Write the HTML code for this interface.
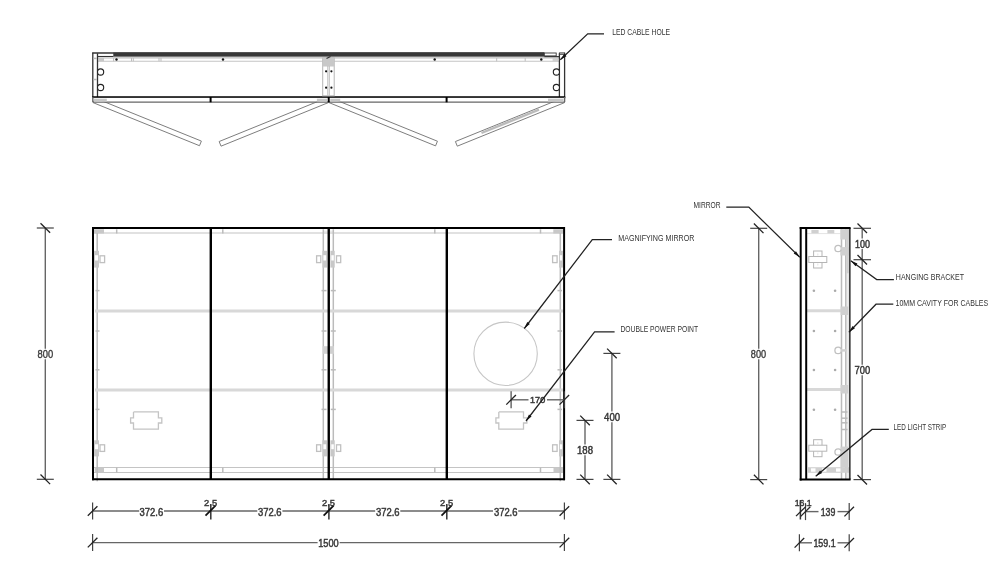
<!DOCTYPE html>
<html><head><meta charset="utf-8"><style>
html,body{margin:0;padding:0;background:#fff;}
svg{display:block;filter:grayscale(1);}
.k1{stroke:#111;stroke-width:1.1;fill:none}
.k12g{stroke:#333;stroke-width:1.3;fill:none}
.k1g{stroke:#333;stroke-width:1.1;fill:none}
.fd{fill:#383838;stroke:none}
.k1n{stroke:#222;stroke-width:1.1;fill:#fff}
.k15{stroke:#111;stroke-width:1.6;fill:none}
.k15g{stroke:#3e3e3e;stroke-width:1.7;fill:none}
.k2{stroke:#000;stroke-width:2;fill:none}
.k2n{stroke:#000;stroke-width:2;fill:none}
.k25{stroke:#000;stroke-width:2.4;fill:none}
.g07{stroke:#dcdcdc;stroke-width:0.8;fill:none}
.g1{stroke:#bdbdbd;stroke-width:1;fill:none}
.g12{stroke:#c4c4c4;stroke-width:1.1;fill:none}
.g15{stroke:#bbb;stroke-width:1.5;fill:none}
.g22{stroke:#bbb;stroke-width:2.4;fill:none}
.wk{fill:#fff;stroke:#333;stroke-width:0.9}
.g1n{stroke:#b5b5b5;stroke-width:1;fill:none}
.g1nw{stroke:#b5b5b5;stroke-width:1;fill:#fff}
.g13nw{stroke:#c0c0c0;stroke-width:1.3;fill:#fff}
.g2d{stroke:#c8c8c8;stroke-width:2.2;stroke-dasharray:6 4;fill:none}
.fg{fill:#c8c8c8;stroke:none}
.fgl{fill:#d0d0d0;stroke:none}
.fvl{fill:#ececec;stroke:none}
.fgd{fill:#aaa;stroke:none}
.fw{fill:#fff;stroke:none}
.fk{fill:#111;stroke:none}
.sh{stroke:#d8d8d8;stroke-width:3;fill:none}
.ppc{stroke:#c4c4c4;stroke-width:1.3;fill:none}
.mm{stroke:#c6c6c6;stroke-width:1.1;fill:none}
.dg{stroke:#7e7e7e;stroke-width:1.0;fill:#fff}
.d1{stroke:#666;stroke-width:1.4;fill:none}
.de{stroke:#444;stroke-width:1.2;fill:none}
.ds{stroke:#222;stroke-width:1.3;fill:none}
.ds2{stroke:#111;stroke-width:1.8;fill:none}
.ds16{stroke:#333;stroke-width:1.5;fill:none}
.ld{stroke:#222;stroke-width:1.25;fill:none}
text{font-family:"Liberation Sans",sans-serif;}
.dt{font-size:10px;fill:#333;stroke:#3a3a3a;stroke-width:0.45}
.dtr{font-size:10px;fill:#333;stroke:#444;stroke-width:0.35}
.dt92{font-size:9.3px;fill:#333;stroke:#3a3a3a;stroke-width:0.45}
.dt9{font-size:9.6px;fill:#333;stroke:#3a3a3a;stroke-width:0.45}
.lt{font-size:8.8px;fill:#333}
</style></head>
<body><svg width="991" height="576" viewBox="0 0 991 576">
<rect x="0" y="0" width="991" height="576" fill="#fff"/>
<polyline points="93.06,102.62 199.51,145.72 201.39,141.08 94.94,97.98 93.06,102.62" class="dg"/>
<polyline points="326.46,97.98 219.16,141.53 221.04,146.17 328.34,102.62 326.46,97.98" class="dg"/>
<polyline points="329.06,102.62 435.56,145.87 437.44,141.23 330.94,97.98 329.06,102.62" class="dg"/>
<polyline points="562.66,97.98 455.41,141.53 457.29,146.17 564.54,102.62 562.66,97.98" class="dg"/>
<line x1="539.00" y1="109.60" x2="481.50" y2="133.00" class="g22"/>
<rect x="93.50" y="53.50" width="470.50" height="43.00" class="fw"/>
<line x1="92.20" y1="53.00" x2="544.30" y2="53.00" class="k12g"/>
<rect x="113.30" y="52.60" width="431.00" height="4.40" class="fd"/>
<line x1="113.30" y1="57.00" x2="559.40" y2="57.00" class="g1"/>
<line x1="97.50" y1="56.50" x2="113.30" y2="56.50" class="k1g"/>
<line x1="97.50" y1="58.00" x2="559.40" y2="58.00" class="g1"/>
<line x1="97.50" y1="61.30" x2="559.40" y2="61.30" class="g12"/>
<rect x="98.40" y="58.00" width="5.60" height="3.30" class="fg"/>
<rect x="552.60" y="58.00" width="5.70" height="3.60" class="fgl"/>
<circle cx="116.50" cy="59.50" r="1.20" class="fk"/>
<circle cx="223.00" cy="59.50" r="1.20" class="fk"/>
<circle cx="329.20" cy="59.50" r="1.20" class="fk"/>
<circle cx="434.70" cy="59.50" r="1.20" class="fk"/>
<circle cx="541.30" cy="59.50" r="1.20" class="fk"/>
<line x1="113.60" y1="58.00" x2="113.60" y2="61.30" class="g1"/>
<line x1="131.50" y1="58.00" x2="131.50" y2="61.30" class="g1"/>
<line x1="133.30" y1="58.00" x2="133.30" y2="61.30" class="g1"/>
<line x1="159.00" y1="58.00" x2="159.00" y2="61.30" class="g1"/>
<line x1="161.00" y1="58.00" x2="161.00" y2="61.30" class="g1"/>
<line x1="496.70" y1="58.00" x2="496.70" y2="61.30" class="g1"/>
<line x1="525.20" y1="58.00" x2="525.20" y2="61.30" class="g1"/>
<line x1="92.80" y1="52.80" x2="92.80" y2="97.80" class="k12g"/>
<line x1="97.50" y1="53.30" x2="97.50" y2="97.00" class="k12g"/>
<line x1="93.50" y1="58.40" x2="96.80" y2="58.40" class="g15"/>
<line x1="93.50" y1="79.50" x2="96.80" y2="79.50" class="g15"/>
<line x1="559.40" y1="53.30" x2="559.40" y2="97.00" class="k12g"/>
<line x1="564.60" y1="52.80" x2="564.60" y2="98.00" class="k12g"/>
<rect x="544.30" y="53.00" width="11.90" height="2.90" class="wk"/>
<line x1="544.30" y1="56.60" x2="559.40" y2="56.60" class="k1g"/>
<rect x="559.40" y="52.90" width="5.20" height="1.40" class="wk"/>
<line x1="92.20" y1="97.30" x2="565.20" y2="97.30" class="k2"/>
<rect x="93.30" y="97.80" width="471.00" height="3.80" class="fw"/>
<line x1="92.80" y1="102.10" x2="564.60" y2="102.10" class="d1"/>
<line x1="92.80" y1="97.00" x2="92.80" y2="102.10" class="d1"/>
<line x1="564.60" y1="97.00" x2="564.60" y2="102.10" class="d1"/>
<line x1="210.60" y1="97.00" x2="210.60" y2="102.30" class="k2"/>
<line x1="328.70" y1="97.00" x2="328.70" y2="102.30" class="k2"/>
<line x1="446.60" y1="97.00" x2="446.60" y2="102.30" class="k2"/>
<rect x="94.00" y="98.70" width="12.80" height="3.00" class="fg"/>
<rect x="548.00" y="98.70" width="15.50" height="3.00" class="fg"/>
<rect x="316.90" y="98.70" width="10.20" height="2.80" class="fg"/>
<rect x="330.30" y="98.70" width="9.90" height="2.80" class="fg"/>
<circle cx="100.60" cy="72.00" r="3.10" class="k1n"/>
<circle cx="100.60" cy="87.50" r="3.10" class="k1n"/>
<circle cx="556.40" cy="72.00" r="3.10" class="k1n"/>
<circle cx="556.40" cy="87.50" r="3.10" class="k1n"/>
<rect x="322.70" y="58.00" width="11.50" height="37.80" class="g1nw"/>
<rect x="322.70" y="58.00" width="11.50" height="8.50" class="fg"/>
<line x1="327.80" y1="66.00" x2="327.80" y2="95.80" class="g1"/>
<line x1="329.30" y1="66.00" x2="329.30" y2="95.80" class="g1"/>
<circle cx="326.10" cy="71.30" r="1.10" class="fk"/>
<circle cx="326.10" cy="87.70" r="1.10" class="fk"/>
<circle cx="331.40" cy="71.30" r="1.10" class="fk"/>
<circle cx="331.40" cy="87.70" r="1.10" class="fk"/>
<line x1="326.50" y1="58.50" x2="330.50" y2="56.50" class="k1g"/>
<line x1="94.00" y1="233.00" x2="563.00" y2="233.00" class="g12"/>
<line x1="323.00" y1="231.20" x2="334.00" y2="231.20" class="g07"/>
<line x1="94.00" y1="467.50" x2="563.00" y2="467.50" class="g12"/>
<line x1="94.00" y1="472.50" x2="563.00" y2="472.50" class="g12"/>
<line x1="116.70" y1="229.30" x2="116.70" y2="233.50" class="g15"/>
<line x1="116.70" y1="467.50" x2="116.70" y2="472.50" class="g15"/>
<line x1="222.80" y1="229.30" x2="222.80" y2="233.50" class="g15"/>
<line x1="222.80" y1="467.50" x2="222.80" y2="472.50" class="g15"/>
<line x1="434.80" y1="229.30" x2="434.80" y2="233.50" class="g15"/>
<line x1="434.80" y1="467.50" x2="434.80" y2="472.50" class="g15"/>
<line x1="540.50" y1="229.30" x2="540.50" y2="233.50" class="g15"/>
<line x1="540.50" y1="467.50" x2="540.50" y2="472.50" class="g15"/>
<rect x="94.00" y="229.30" width="10.00" height="4.20" class="fg"/>
<rect x="553.30" y="229.30" width="9.90" height="4.20" class="fg"/>
<rect x="94.70" y="467.50" width="9.30" height="5.00" class="fg"/>
<rect x="553.50" y="467.50" width="9.50" height="5.00" class="fg"/>
<line x1="97.20" y1="233.00" x2="97.20" y2="481.20" class="g15"/>
<line x1="560.30" y1="233.00" x2="560.30" y2="481.20" class="g15"/>
<line x1="323.30" y1="229.30" x2="323.30" y2="479.00" class="g15"/>
<line x1="333.30" y1="229.30" x2="333.30" y2="479.00" class="g15"/>
<line x1="95.00" y1="310.90" x2="563.00" y2="310.90" class="sh"/>
<line x1="95.00" y1="389.90" x2="563.00" y2="389.90" class="sh"/>
<line x1="95.50" y1="290.60" x2="99.50" y2="290.60" class="g15"/>
<line x1="557.50" y1="290.60" x2="562.00" y2="290.60" class="g15"/>
<line x1="321.50" y1="290.60" x2="326.50" y2="290.60" class="g15"/>
<line x1="330.80" y1="290.60" x2="335.80" y2="290.60" class="g15"/>
<line x1="95.50" y1="331.00" x2="99.50" y2="331.00" class="g15"/>
<line x1="557.50" y1="331.00" x2="562.00" y2="331.00" class="g15"/>
<line x1="321.50" y1="331.00" x2="326.50" y2="331.00" class="g15"/>
<line x1="330.80" y1="331.00" x2="335.80" y2="331.00" class="g15"/>
<line x1="95.50" y1="369.80" x2="99.50" y2="369.80" class="g15"/>
<line x1="557.50" y1="369.80" x2="562.00" y2="369.80" class="g15"/>
<line x1="321.50" y1="369.80" x2="326.50" y2="369.80" class="g15"/>
<line x1="330.80" y1="369.80" x2="335.80" y2="369.80" class="g15"/>
<line x1="95.50" y1="409.40" x2="99.50" y2="409.40" class="g15"/>
<line x1="557.50" y1="409.40" x2="562.00" y2="409.40" class="g15"/>
<line x1="321.50" y1="409.40" x2="326.50" y2="409.40" class="g15"/>
<line x1="330.80" y1="409.40" x2="335.80" y2="409.40" class="g15"/>
<rect x="94.10" y="250.80" width="4.90" height="16.80" class="fg"/>
<rect x="95.00" y="255.20" width="3.10" height="5.30" class="fw"/>
<rect x="100.00" y="255.80" width="4.60" height="6.80" class="g13nw"/>
<rect x="559.00" y="250.80" width="4.00" height="16.80" class="fg"/>
<rect x="559.90" y="255.20" width="2.20" height="5.30" class="fw"/>
<rect x="552.60" y="255.80" width="4.50" height="6.80" class="g13nw"/>
<rect x="322.50" y="250.80" width="4.50" height="16.80" class="fg"/>
<rect x="323.40" y="255.20" width="2.70" height="5.30" class="fw"/>
<rect x="316.60" y="255.80" width="4.20" height="6.80" class="g13nw"/>
<rect x="330.40" y="250.80" width="4.30" height="16.80" class="fg"/>
<rect x="331.30" y="255.20" width="2.50" height="5.30" class="fw"/>
<rect x="336.50" y="255.80" width="4.20" height="6.80" class="g13nw"/>
<rect x="94.10" y="440.30" width="4.90" height="16.10" class="fg"/>
<rect x="95.00" y="444.30" width="3.10" height="4.90" class="fw"/>
<rect x="100.00" y="444.80" width="4.60" height="6.60" class="g13nw"/>
<rect x="559.00" y="440.30" width="4.00" height="16.10" class="fg"/>
<rect x="559.90" y="444.30" width="2.20" height="4.90" class="fw"/>
<rect x="552.60" y="444.80" width="4.50" height="6.60" class="g13nw"/>
<rect x="322.50" y="440.30" width="4.50" height="16.10" class="fg"/>
<rect x="323.40" y="444.30" width="2.70" height="4.90" class="fw"/>
<rect x="316.60" y="444.80" width="4.20" height="6.60" class="g13nw"/>
<rect x="330.40" y="440.30" width="4.30" height="16.10" class="fg"/>
<rect x="331.30" y="444.30" width="2.50" height="4.90" class="fw"/>
<rect x="336.50" y="444.80" width="4.20" height="6.60" class="g13nw"/>
<rect x="322.70" y="346.20" width="11.30" height="7.60" class="fgl"/>
<polyline points="133.50,411.90 158.40,411.90 158.40,417.90 161.80,417.90 161.80,423.00 158.40,423.00 158.40,429.20 133.50,429.20 133.50,423.00 130.60,423.00 130.60,417.90 133.50,417.90 133.50,411.90" class="ppc"/>
<polyline points="498.80,411.90 523.50,411.90 523.50,417.90 526.90,417.90 526.90,423.00 523.50,423.00 523.50,429.20 498.80,429.20 498.80,423.00 495.90,423.00 495.90,417.90 498.80,417.90 498.80,411.90" class="ppc"/>
<circle cx="505.60" cy="353.80" r="31.70" class="mm"/>
<line x1="92.00" y1="228.00" x2="565.00" y2="228.00" class="k2"/>
<line x1="92.00" y1="479.20" x2="565.00" y2="479.20" class="k2"/>
<line x1="93.00" y1="227.00" x2="93.00" y2="480.20" class="k2"/>
<line x1="564.10" y1="227.00" x2="564.10" y2="480.20" class="k2"/>
<line x1="210.80" y1="228.00" x2="210.80" y2="479.20" class="k25"/>
<line x1="328.75" y1="228.00" x2="328.75" y2="479.20" class="k25"/>
<line x1="446.80" y1="228.00" x2="446.80" y2="479.20" class="k25"/>
<rect x="811.40" y="230.00" width="7.20" height="3.60" class="fgl"/>
<rect x="827.40" y="230.00" width="6.90" height="3.60" class="fgl"/>
<line x1="807.00" y1="233.60" x2="840.40" y2="233.60" class="g07"/>
<rect x="846.60" y="229.00" width="2.20" height="250.00" class="fvl"/>
<line x1="841.50" y1="229.00" x2="841.50" y2="479.00" class="g15"/>
<line x1="845.80" y1="229.00" x2="845.80" y2="479.00" class="g15"/>
<rect x="840.40" y="229.20" width="8.20" height="10.30" class="fgl"/>
<rect x="840.40" y="247.30" width="8.20" height="8.20" class="fgl"/>
<rect x="846.50" y="229.20" width="2.10" height="44.10" class="fgl"/>
<line x1="807.00" y1="310.80" x2="841.50" y2="310.80" class="sh"/>
<line x1="807.00" y1="389.60" x2="841.50" y2="389.60" class="sh"/>
<rect x="840.60" y="306.50" width="7.60" height="8.50" class="fgl"/>
<rect x="840.60" y="385.00" width="7.60" height="8.50" class="fgl"/>
<rect x="840.60" y="446.60" width="7.60" height="21.00" class="fgl"/>
<line x1="841.20" y1="412.00" x2="847.50" y2="412.00" class="g15"/>
<line x1="841.20" y1="418.20" x2="847.50" y2="418.20" class="g15"/>
<line x1="841.20" y1="422.80" x2="847.50" y2="422.80" class="g15"/>
<line x1="841.20" y1="429.50" x2="847.50" y2="429.50" class="g15"/>
<rect x="808.00" y="467.20" width="41.00" height="5.60" class="fgl"/>
<rect x="811.00" y="468.30" width="4.50" height="3.40" class="fw"/>
<rect x="822.00" y="468.30" width="4.50" height="3.40" class="fw"/>
<rect x="836.00" y="468.30" width="4.50" height="3.40" class="fw"/>
<circle cx="813.90" cy="290.80" r="1.30" class="fgd"/>
<circle cx="835.10" cy="290.80" r="1.30" class="fgd"/>
<circle cx="813.90" cy="331.00" r="1.30" class="fgd"/>
<circle cx="835.10" cy="331.00" r="1.30" class="fgd"/>
<circle cx="813.90" cy="370.00" r="1.30" class="fgd"/>
<circle cx="835.10" cy="370.00" r="1.30" class="fgd"/>
<circle cx="813.90" cy="409.70" r="1.30" class="fgd"/>
<circle cx="835.10" cy="409.70" r="1.30" class="fgd"/>
<circle cx="838.10" cy="248.50" r="3.20" class="g13nw"/>
<rect x="840.90" y="247.30" width="5.40" height="2.40" class="fgl"/>
<circle cx="838.10" cy="350.40" r="3.20" class="g13nw"/>
<rect x="840.90" y="349.20" width="5.40" height="2.40" class="fgl"/>
<circle cx="838.10" cy="452.00" r="3.20" class="g13nw"/>
<rect x="840.90" y="450.80" width="5.40" height="2.40" class="fgl"/>
<rect x="813.60" y="251.00" width="8.40" height="17.00" class="g1nw"/>
<rect x="808.80" y="256.50" width="18.00" height="6.00" class="g1nw"/>
<line x1="817.80" y1="253.50" x2="817.80" y2="255.50" class="g07"/>
<line x1="817.80" y1="263.50" x2="817.80" y2="265.50" class="g07"/>
<rect x="813.60" y="439.70" width="8.40" height="17.00" class="g1nw"/>
<rect x="808.80" y="445.20" width="18.00" height="6.00" class="g1nw"/>
<line x1="817.80" y1="442.20" x2="817.80" y2="444.20" class="g07"/>
<line x1="817.80" y1="452.20" x2="817.80" y2="454.20" class="g07"/>
<line x1="800.70" y1="227.00" x2="800.70" y2="480.50" class="k2"/>
<line x1="806.20" y1="228.00" x2="806.20" y2="479.50" class="k2"/>
<line x1="849.80" y1="228.00" x2="849.80" y2="479.50" class="k15g"/>
<line x1="799.70" y1="228.00" x2="850.60" y2="228.00" class="k2"/>
<line x1="799.70" y1="479.50" x2="850.60" y2="479.50" class="k2"/>
<line x1="45.30" y1="228.00" x2="45.30" y2="348.70" class="d1"/>
<line x1="45.30" y1="359.30" x2="45.30" y2="479.30" class="d1"/>
<line x1="36.80" y1="228.00" x2="53.80" y2="228.00" class="de"/>
<line x1="40.50" y1="223.20" x2="50.10" y2="232.80" class="ds"/>
<line x1="36.80" y1="479.30" x2="53.80" y2="479.30" class="de"/>
<line x1="40.50" y1="474.50" x2="50.10" y2="484.10" class="ds"/>
<text x="45.30" y="357.60" class="dtr" text-anchor="middle" textLength="15.6" lengthAdjust="spacingAndGlyphs">800</text>
<line x1="92.60" y1="511.00" x2="139.20" y2="511.00" class="d1"/>
<line x1="164.00" y1="511.00" x2="257.30" y2="511.00" class="d1"/>
<line x1="282.40" y1="511.00" x2="375.20" y2="511.00" class="d1"/>
<line x1="400.30" y1="511.00" x2="493.00" y2="511.00" class="d1"/>
<line x1="518.20" y1="511.00" x2="564.40" y2="511.00" class="d1"/>
<line x1="92.60" y1="502.50" x2="92.60" y2="519.50" class="de"/>
<line x1="87.80" y1="515.80" x2="97.40" y2="506.20" class="ds"/>
<line x1="564.40" y1="502.50" x2="564.40" y2="519.50" class="de"/>
<line x1="559.60" y1="515.80" x2="569.20" y2="506.20" class="ds"/>
<line x1="210.80" y1="504.00" x2="210.80" y2="519.50" class="ds16"/>
<line x1="205.50" y1="515.60" x2="215.50" y2="505.70" class="ds2"/>
<line x1="328.90" y1="504.00" x2="328.90" y2="519.50" class="ds16"/>
<line x1="323.60" y1="515.60" x2="333.60" y2="505.70" class="ds2"/>
<line x1="446.80" y1="504.00" x2="446.80" y2="519.50" class="ds16"/>
<line x1="441.50" y1="515.60" x2="451.50" y2="505.70" class="ds2"/>
<text x="151.40" y="515.80" class="dt" text-anchor="middle" textLength="23.6" lengthAdjust="spacingAndGlyphs">372.6</text>
<text x="269.80" y="515.80" class="dt" text-anchor="middle" textLength="23.6" lengthAdjust="spacingAndGlyphs">372.6</text>
<text x="387.80" y="515.80" class="dt" text-anchor="middle" textLength="23.6" lengthAdjust="spacingAndGlyphs">372.6</text>
<text x="505.70" y="515.80" class="dt" text-anchor="middle" textLength="23.6" lengthAdjust="spacingAndGlyphs">372.6</text>
<text x="210.60" y="506.00" class="dt9" text-anchor="middle" textLength="13.0" lengthAdjust="spacingAndGlyphs">2.5</text>
<text x="328.50" y="506.00" class="dt9" text-anchor="middle" textLength="13.0" lengthAdjust="spacingAndGlyphs">2.5</text>
<text x="446.60" y="506.00" class="dt9" text-anchor="middle" textLength="13.0" lengthAdjust="spacingAndGlyphs">2.5</text>
<line x1="92.60" y1="542.60" x2="317.60" y2="542.60" class="d1"/>
<line x1="339.60" y1="542.60" x2="564.40" y2="542.60" class="d1"/>
<line x1="92.60" y1="534.10" x2="92.60" y2="551.10" class="de"/>
<line x1="87.80" y1="547.40" x2="97.40" y2="537.80" class="ds"/>
<line x1="564.40" y1="534.10" x2="564.40" y2="551.10" class="de"/>
<line x1="559.60" y1="547.40" x2="569.20" y2="537.80" class="ds"/>
<text x="328.50" y="546.60" class="dt" text-anchor="middle" textLength="20.5" lengthAdjust="spacingAndGlyphs">1500</text>
<line x1="611.90" y1="353.40" x2="611.90" y2="411.50" class="d1"/>
<line x1="611.90" y1="422.20" x2="611.90" y2="479.40" class="d1"/>
<line x1="603.40" y1="353.40" x2="620.40" y2="353.40" class="de"/>
<line x1="607.10" y1="348.60" x2="616.70" y2="358.20" class="ds"/>
<line x1="603.40" y1="479.40" x2="620.40" y2="479.40" class="de"/>
<line x1="607.10" y1="474.60" x2="616.70" y2="484.20" class="ds"/>
<text x="612.10" y="420.60" class="dt" text-anchor="middle" textLength="16.0" lengthAdjust="spacingAndGlyphs">400</text>
<line x1="585.00" y1="420.40" x2="585.00" y2="444.60" class="d1"/>
<line x1="585.00" y1="455.20" x2="585.00" y2="479.40" class="d1"/>
<line x1="576.50" y1="420.40" x2="593.50" y2="420.40" class="de"/>
<line x1="580.20" y1="415.60" x2="589.80" y2="425.20" class="ds"/>
<line x1="576.50" y1="479.40" x2="593.50" y2="479.40" class="de"/>
<line x1="580.20" y1="474.60" x2="589.80" y2="484.20" class="ds"/>
<text x="585.00" y="453.60" class="dt" text-anchor="middle" textLength="16.0" lengthAdjust="spacingAndGlyphs">188</text>
<line x1="511.10" y1="399.80" x2="528.50" y2="399.80" class="d1"/>
<line x1="547.00" y1="399.80" x2="564.40" y2="399.80" class="d1"/>
<line x1="511.10" y1="391.30" x2="511.10" y2="408.30" class="de"/>
<line x1="506.30" y1="404.60" x2="515.90" y2="395.00" class="ds"/>
<line x1="564.30" y1="391.30" x2="564.30" y2="408.30" class="de"/>
<line x1="559.50" y1="404.60" x2="569.10" y2="395.00" class="ds"/>
<text x="537.60" y="403.30" class="dt92" text-anchor="middle" textLength="15.2" lengthAdjust="spacingAndGlyphs">170</text>
<line x1="758.70" y1="228.30" x2="758.70" y2="348.70" class="d1"/>
<line x1="758.70" y1="359.30" x2="758.70" y2="479.60" class="d1"/>
<line x1="750.20" y1="228.30" x2="767.20" y2="228.30" class="de"/>
<line x1="753.90" y1="223.50" x2="763.50" y2="233.10" class="ds"/>
<line x1="750.20" y1="479.60" x2="767.20" y2="479.60" class="de"/>
<line x1="753.90" y1="474.80" x2="763.50" y2="484.40" class="ds"/>
<text x="758.50" y="357.60" class="dtr" text-anchor="middle" textLength="15.3" lengthAdjust="spacingAndGlyphs">800</text>
<line x1="862.20" y1="228.30" x2="862.20" y2="238.50" class="d1"/>
<line x1="862.20" y1="249.00" x2="862.20" y2="364.70" class="d1"/>
<line x1="862.20" y1="375.30" x2="862.20" y2="479.60" class="d1"/>
<line x1="853.50" y1="228.30" x2="871.00" y2="228.30" class="de"/>
<line x1="857.50" y1="223.50" x2="867.00" y2="233.00" class="ds"/>
<line x1="853.50" y1="259.70" x2="871.00" y2="259.70" class="de"/>
<line x1="857.50" y1="255.00" x2="867.00" y2="264.50" class="ds"/>
<line x1="853.50" y1="479.60" x2="871.00" y2="479.60" class="de"/>
<line x1="857.50" y1="475.00" x2="867.00" y2="484.50" class="ds"/>
<text x="862.60" y="247.60" class="dt" text-anchor="middle" textLength="15.0" lengthAdjust="spacingAndGlyphs">100</text>
<text x="862.40" y="373.70" class="dt" text-anchor="middle" textLength="15.6" lengthAdjust="spacingAndGlyphs">700</text>
<line x1="805.50" y1="511.60" x2="818.50" y2="511.60" class="d1"/>
<line x1="837.50" y1="511.60" x2="849.20" y2="511.60" class="d1"/>
<line x1="849.20" y1="503.10" x2="849.20" y2="520.10" class="de"/>
<line x1="844.40" y1="516.40" x2="854.00" y2="506.80" class="ds"/>
<line x1="805.50" y1="503.10" x2="805.50" y2="520.10" class="de"/>
<line x1="800.70" y1="516.40" x2="810.30" y2="506.80" class="ds"/>
<line x1="800.40" y1="500.00" x2="800.40" y2="519.50" class="ds16"/>
<line x1="796.00" y1="516.10" x2="805.80" y2="506.60" class="ds"/>
<text x="828.00" y="515.50" class="dt" text-anchor="middle" textLength="14.6" lengthAdjust="spacingAndGlyphs">139</text>
<text x="803.20" y="505.90" class="dt9" text-anchor="middle" textLength="17.0" lengthAdjust="spacingAndGlyphs">16.1</text>
<line x1="799.40" y1="542.80" x2="812.00" y2="542.80" class="d1"/>
<line x1="837.50" y1="542.80" x2="849.20" y2="542.80" class="d1"/>
<line x1="799.40" y1="534.30" x2="799.40" y2="551.30" class="de"/>
<line x1="794.60" y1="547.60" x2="804.20" y2="538.00" class="ds"/>
<line x1="849.20" y1="534.30" x2="849.20" y2="551.30" class="de"/>
<line x1="844.40" y1="547.60" x2="854.00" y2="538.00" class="ds"/>
<text x="824.50" y="546.50" class="dt" text-anchor="middle" textLength="22.2" lengthAdjust="spacingAndGlyphs">159.1</text>
<polyline points="604.00,33.80 587.70,33.80 560.30,59.80" class="ld"/>
<polygon points="560.30,59.80 564.28,53.82 566.48,56.14" class="fk"/>
<text x="612.20" y="35.30" class="lt" text-anchor="start" textLength="57.8" lengthAdjust="spacingAndGlyphs">LED CABLE HOLE</text>
<polyline points="612.00,239.60 592.30,239.60 524.30,328.50" class="ld"/>
<polygon points="524.30,328.50 527.28,321.97 529.82,323.91" class="fk"/>
<text x="618.30" y="241.00" class="lt" text-anchor="start" textLength="76.1" lengthAdjust="spacingAndGlyphs">MAGNIFYING MIRROR</text>
<polyline points="614.60,331.90 594.60,331.90 526.00,421.00" class="ld"/>
<polygon points="526.00,421.00 529.00,414.48 531.54,416.43" class="fk"/>
<text x="620.40" y="332.30" class="lt" text-anchor="start" textLength="77.7" lengthAdjust="spacingAndGlyphs">DOUBLE POWER POINT</text>
<polyline points="726.30,207.10 748.80,207.10 799.80,257.20" class="ld"/>
<polygon points="799.80,257.20 793.69,253.44 795.93,251.15" class="fk"/>
<text x="693.50" y="207.70" class="lt" text-anchor="start" textLength="27.1" lengthAdjust="spacingAndGlyphs">MIRROR</text>
<polyline points="893.90,279.60 876.70,279.60 850.80,260.80" class="ld"/>
<polygon points="850.80,260.80 857.40,263.62 855.53,266.21" class="fk"/>
<text x="895.80" y="280.20" class="lt" text-anchor="start" textLength="68.2" lengthAdjust="spacingAndGlyphs">HANGING BRACKET</text>
<polyline points="893.30,304.20 876.00,304.20 848.90,332.20" class="ld"/>
<polygon points="848.90,332.20 852.62,326.06 854.92,328.28" class="fk"/>
<text x="895.50" y="306.40" class="lt" text-anchor="start" textLength="92.7" lengthAdjust="spacingAndGlyphs">10MM CAVITY FOR CABLES</text>
<polyline points="888.80,429.40 872.00,429.40 815.70,476.30" class="ld"/>
<polygon points="815.70,476.30 820.05,470.59 822.10,473.05" class="fk"/>
<text x="893.60" y="430.30" class="lt" text-anchor="start" textLength="52.6" lengthAdjust="spacingAndGlyphs">LED LIGHT STRIP</text>
</svg></body></html>
